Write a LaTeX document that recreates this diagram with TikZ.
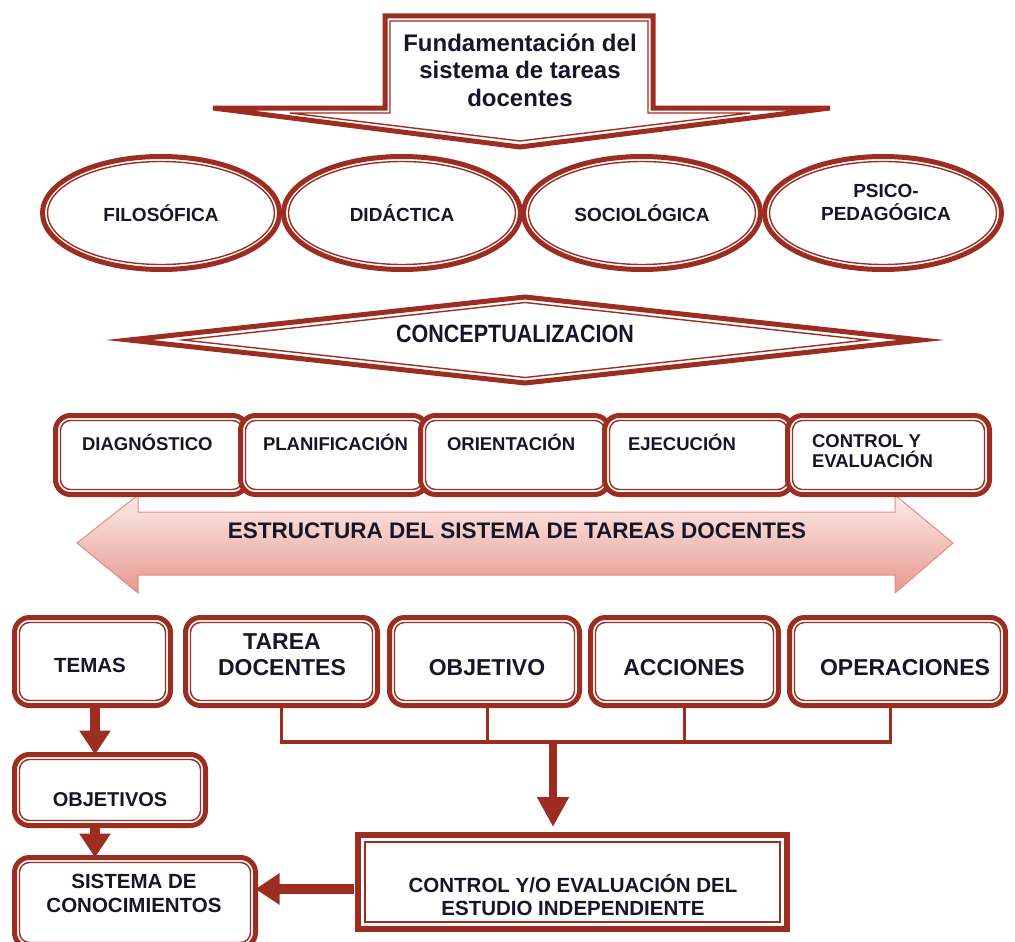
\documentclass[tikz,border=0pt]{standalone}
\usepackage{fontspec}
\setmainfont{Liberation Sans}
\usetikzlibrary{shapes.geometric,arrows.meta,calc}
\definecolor{brd}{RGB}{158,45,33}
\definecolor{txt}{RGB}{22,22,40}
\definecolor{pinkA}{RGB}{253,236,232}
\definecolor{pinkB}{RGB}{230,152,144}
\definecolor{pinkE}{RGB}{226,140,132}
\newcommand\myrin[1]{\draw[inln, rounded corners=10pt] ([shift={(5pt,-5pt)}]#1.north west) rectangle ([shift={(-5pt,5pt)}]#1.south east);}
\newcommand\mysin[1]{\draw[inln] ([shift={(7pt,-7pt)}]#1.north west) rectangle ([shift={(-7pt,7pt)}]#1.south east);}
\newcommand\myein[1]{\draw[inln] (#1.center) ellipse [x radius=113.5pt, y radius=51.5pt];}
\begin{document}
\begin{tikzpicture}[x=1pt,y=-1pt,
  every node/.style={text=txt, align=center, inner sep=0pt, outer sep=0pt},
  fs/.style 2 args={font=\bfseries\fontsize{#1}{#2}\selectfont},
  inln/.style={draw=brd, line width=1.4pt},
  rbox/.style={draw=brd, line width=5pt, rounded corners=15pt, fill=white},
  sbox/.style={draw=brd, line width=6pt, fill=white},
  ell/.style={ellipse, draw=brd, line width=5pt, fill=white,
    minimum width=237pt, minimum height=113pt},
  dia/.style={diamond, aspect=9.7, draw=brd, line width=5pt, fill=white,
    minimum width=792pt, minimum height=86pt},
  brk/.style={draw=brd, line width=3.5pt},
  fat/.style={draw=brd, line width=10pt, -{Triangle[width=30pt,length=24pt]}},
  fat2/.style={draw=brd, line width=8pt, -{Triangle[width=30pt,length=30pt]}},
]
\useasboundingbox (0,0) rectangle (1015,942);

% ---- top block arrow ----
\draw[draw=brd, line width=5pt, line join=miter, fill=white]
  (385,16) -- (653,16) -- (653,108) -- (830,108) -- (520,147) -- (213,108) -- (385,108) -- cycle;
\draw[inln, line join=miter]
  (390,21) -- (648,21) -- (648,113) -- (750,113) -- (520,141) -- (290,113) -- (390,113) -- cycle;
\node[fs={24}{27.5}] (fund) at (520,70) {Fundamentación del\\sistema de tareas\\docentes};

% ---- ellipses ----
\node[ell] (filo) at (161,213) {}; \myein{filo}
\node[ell] (dida) at (402,213) {}; \myein{dida}
\node[ell] (soci) at (642,213) {}; \myein{soci}
\node[ell] (psic) at (883,213) {}; \myein{psic}
\node[fs={19}{22}] (filo-t) at (161,213) {FILOSÓFICA};
\node[fs={19}{22}] (dida-t) at (402,213) {DIDÁCTICA};
\node[fs={19}{22}] (soci-t) at (642,213) {SOCIOLÓGICA};
\node[fs={19}{23}] (psic-t) at (886,202) {PSICO-\\PEDAGÓGICA};

% ---- diamond ----
\node[dia] (conc) at (525,340) {};
\draw[inln] ([xshift=54pt]conc.west) -- ([yshift=-5.5pt]conc.north) --
  ([xshift=-54pt]conc.east) -- ([yshift=5.5pt]conc.south) -- cycle;
\node[fs={25}{28}] (conc-t) at (515,334) {\scalebox{0.86}[1]{CONCEPTUALIZACION}};

% ---- pink double arrow ----
\shadedraw[top color=pinkA, bottom color=pinkB, draw=pinkE, line width=1pt]
  (77,543) -- (138,495) -- (138,512) -- (895,512) -- (895,495) -- (953,543)
  -- (895,593) -- (895,575) -- (138,575) -- (138,593) -- cycle;
\node[fs={22.5}{26}] (estr) at (517,531) {ESTRUCTURA DEL SISTEMA DE TAREAS DOCENTES};

% ---- process row ----
\node[rbox, minimum width=192pt, minimum height=79pt] (diag) at (151.5,455) {}; \myrin{diag}
\node[rbox, minimum width=187pt, minimum height=79pt] (plan) at (334,455) {}; \myrin{plan}
\node[rbox, minimum width=189pt, minimum height=79pt] (orie) at (515,455) {}; \myrin{orie}
\node[rbox, minimum width=188pt, minimum height=79pt] (ejec) at (698.5,455) {}; \myrin{ejec}
\node[rbox, minimum width=202pt, minimum height=79pt] (cyev) at (888.5,455) {}; \myrin{cyev}
\node[fs={18.5}{21}, anchor=west] (diag-t) at (82,442) {DIAGNÓSTICO};
\node[fs={18.5}{21}, anchor=west] (plan-t) at (263,442) {PLANIFICACIÓN};
\node[fs={18.5}{21}, anchor=west] (orie-t) at (447,442) {ORIENTACIÓN};
\node[fs={18.5}{21}, anchor=west] (ejec-t) at (628,442) {EJECUCIÓN};
\node[fs={18.5}{20.5}, anchor=west, align=left] (cyev-t) at (812,451) {CONTROL Y\\EVALUACIÓN};

% ---- bottom row ----
\node[rbox, minimum width=156pt, minimum height=88pt] (temas) at (92.5,661.5) {}; \myrin{temas}
\node[rbox, minimum width=192pt, minimum height=88pt] (tarea) at (281.5,661.5) {}; \myrin{tarea}
\node[rbox, minimum width=190pt, minimum height=88pt] (objt) at (484.5,661.5) {}; \myrin{objt}
\node[rbox, minimum width=188pt, minimum height=88pt] (acc) at (684.5,661.5) {}; \myrin{acc}
\node[rbox, minimum width=216pt, minimum height=88pt] (oper) at (897.5,661.5) {}; \myrin{oper}
\node[fs={20.5}{24}] (temas-t) at (90,665) {TEMAS};
\node[fs={23}{26}] (tarea-t) at (282,655) {TAREA\\DOCENTES};
\node[fs={23}{26}] (objt-t) at (487,668) {OBJETIVO};
\node[fs={23}{26}] (acc-t) at (684,668) {ACCIONES};
\node[fs={23}{26}] (oper-t) at (905,668) {OPERACIONES};

\node[rbox, minimum width=191pt, minimum height=71pt] (objs) at (110,790) {}; \myrin{objs}
\node[fs={20}{23}] (objs-t) at (110,800) {OBJETIVOS};
\node[rbox, minimum width=241pt, minimum height=90pt] (sis) at (135,902.5) {}; \myrin{sis}
\node[fs={20.5}{24}] (sis-t) at (134,893) {SISTEMA DE\\CONOCIMIENTOS};
\node[sbox, minimum width=429pt, minimum height=94pt] (ctrl) at (572.5,882) {}; \mysin{ctrl}
\node[fs={20.5}{22.5}] (ctrl-t) at (573,895) {CONTROL Y/O EVALUACIÓN DEL\\ESTUDIO INDEPENDIENTE};

% ---- connectors ----
\coordinate (bj) at (553,742);
\draw[brk] (tarea.south) |- ([xshift=-7pt]oper.south |- bj) -- ([xshift=-7pt]oper.south);
\draw[brk] ([xshift=3pt]objt.south) -- ([xshift=3pt]objt.south |- bj);
\draw[brk] (acc.south) -- (acc.south |- bj);
\draw[fat2, shorten >=8pt] (bj) -- (bj |- ctrl.north);

\draw[fat] ([xshift=2.5pt]temas.south) -- ([xshift=2.5pt]temas.south |- objs.north);
\draw[fat] ([xshift=2.5pt]temas.south |- objs.south) -- ([xshift=2.5pt]temas.south |- sis.north);
\draw[fat, shorten <=4pt] ([yshift=-7pt]ctrl.west) -- ([yshift=-7pt]ctrl.west -| sis.east);
\end{tikzpicture}
\end{document}
